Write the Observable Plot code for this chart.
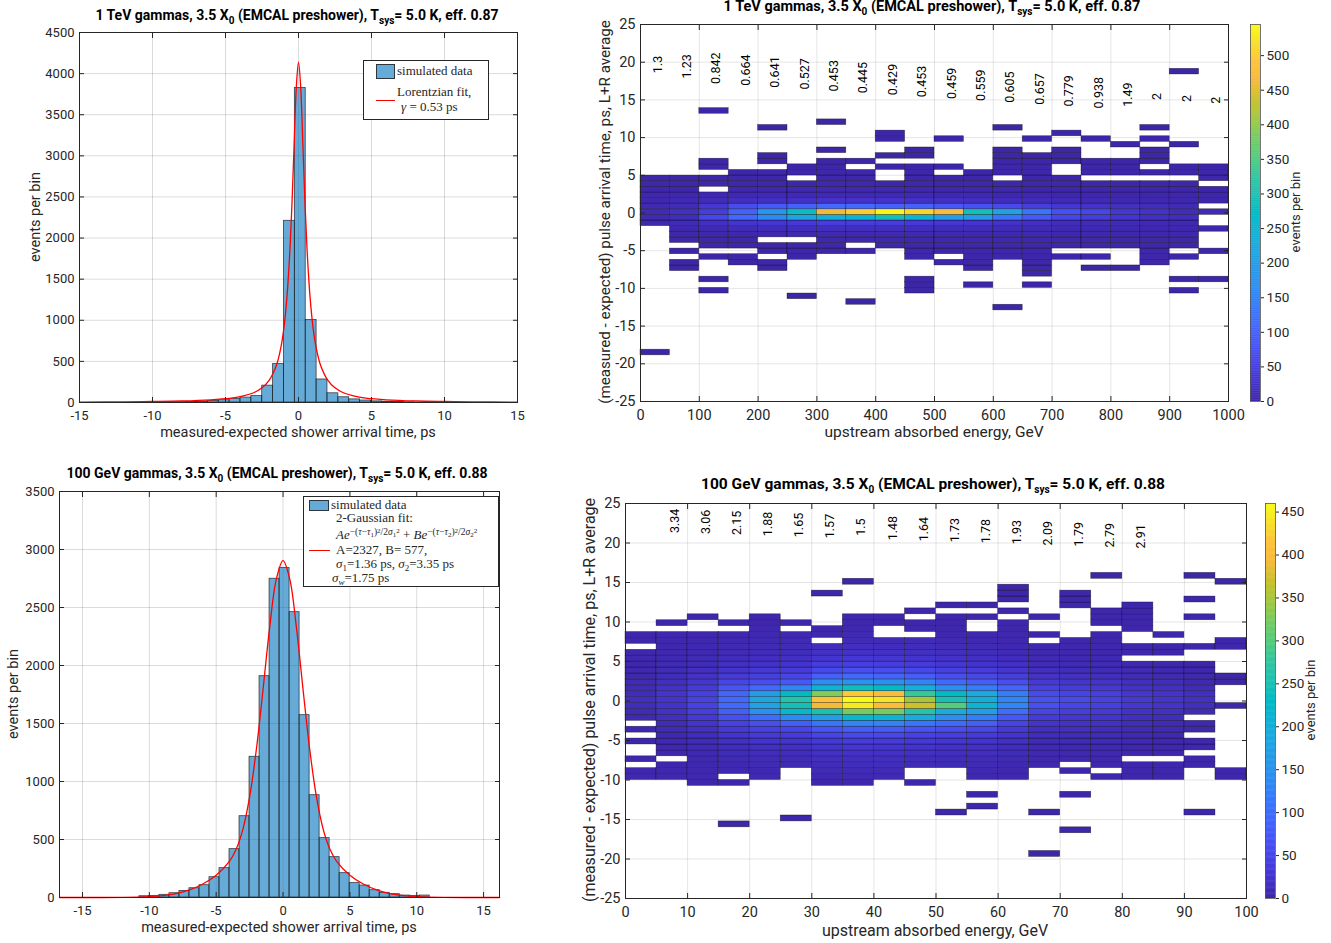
<!DOCTYPE html>
<html><head><meta charset="utf-8">
<script src="https://cdn.jsdelivr.net/npm/d3@7"></script>
<script src="https://cdn.jsdelivr.net/npm/@observablehq/plot@0.6"></script>
<style>
html,body{margin:0;padding:0;background:#fff;}
body{width:1331px;height:943px;position:relative;overflow:hidden;font-family:Roboto,"Noto Sans",sans-serif;}
.abs{position:absolute;white-space:nowrap;}
.title{font-weight:700;font-size:14px;line-height:14px;color:#000;transform:translateX(-50%);}
.title sub{font-size:10px;line-height:0;vertical-align:-4px;}
.xlab{font-size:14.5px;line-height:14.5px;color:#262626;transform:translateX(-50%);}
.ylab{font-size:14.5px;line-height:14.5px;color:#262626;transform:translate(-50%,-50%) rotate(-90deg);}
.legend{position:absolute;border:1px solid #262626;background:#fff;box-sizing:border-box;font-family:"Liberation Serif","DejaVu Serif",serif;font-size:13px;color:#262626;}
.lt{position:absolute;line-height:16px;white-space:nowrap;}
.lt sub{font-size:9px;line-height:0;vertical-align:-3px;}
.sp{font-size:9.5px;vertical-align:4px;line-height:0;}
.sp sub{font-size:7px;vertical-align:-2px;}
.sp sup{font-size:7px;vertical-align:2.5px;line-height:0;}
</style></head><body>
<script>
// ---------------- DATA ----------------
// Top-left histogram: 1 TeV, time bins (ps)
const tlBinStart = -0.25, tlBinWidth = 0.745, tlFirstBin = -11;
const tlCounts = [4,7,12,18,28,42,60,78,205,467,2210,3826,1003,280,112,64,38,24,14,9,5,3];
const tlFitX = [-15,-12,-10,-8,-6,-5,-4,-3,-2.5,-2,-1.5,-1.2,-1,-0.8,-0.6,-0.45,-0.3,-0.15,0,0.15,0.3,0.45,0.6,0.8,1,1.2,1.5,2,2.5,3,4,5,6,8,10,12,15];
const tlFitY = [5,8,12,18,32,46,71,125,178,272,459,676,908,1263,1815,2406,3136,3833,4140,3833,3136,2406,1815,1263,908,676,459,272,178,125,71,46,32,18,12,8,5];

// Bottom-left histogram: 100 GeV
const blBinStart = -0.26, blBinWidth = 0.749, blFirstBin = -14;
const blCounts = [11,14,23,37,57,80,106,175,253,417,701,1213,1908,2748,2840,2460,1572,882,512,348,210,124,103,63,40,29,17,14,17];
const blFitX = [-16.7,-14,-12,-10,-9,-8,-7,-6,-5,-4,-3.5,-3,-2.5,-2,-1.5,-1,-0.5,0,0.5,1,1.5,2,2.5,3,3.5,4,5,6,7,8,9,10,12,14,16.2];
const blFitY = [0,0,1,7,16,33,65,116,192,314,419,590,867,1272,1789,2328,2746,2904,2746,2328,1789,1272,867,590,419,314,192,116,65,33,16,7,1,0,0];

// Top-right 2D histogram: energy columns of 50 GeV, time rows
const trColWidth = 50;
const trStart = [-2,-10,-14,-9,-10,-8,-7,-7,-6,-14,-9,-13,-17,-13,-8,-10,-10,-9,-14,-12];
const trCounts = [
  [5,8,10,8,5,4,3,2,2],
  [1,1,0,1,0,2,3,5,10,15,20,12,8,4,3,2,1],
  [1,0,1,0,0,0,1,0,2,3,4,8,20,60,45,35,12,6,0,2,2,0,1,1],
  [1,1,0,2,3,5,12,30,110,100,70,18,7,5,3,2,1],
  [1,2,0,2,3,0,5,14,35,160,185,90,20,8,5,3,2,2,0,1,1],
  [1,2,3,0,6,16,40,210,280,100,22,9,6,3,0,2,1],
  [2,3,4,7,18,45,240,460,110,25,9,6,4,3,2,1,1,0,1],
  [2,0,4,7,18,45,250,500,110,25,9,6,4,3,2,0,1],
  [3,4,8,18,45,290,540,100,25,9,6,3,0,0,1,0,1,0,0,1,1],
  [1,1,1,0,0,0,2,2,3,4,7,16,40,250,510,100,22,8,5,3,2,2,1,0,1,1],
  [2,0,2,3,4,7,15,35,200,470,85,20,7,5,3,2,0,1,0,0,0,0,1],
  [1,0,0,2,2,2,3,3,5,7,14,30,190,290,75,18,6,4,3,2,1],
  [1,0,0,0,0,0,0,0,0,2,3,3,5,7,12,25,130,210,65,15,5,4,3,0,2,2,1,1,1,0,0,0,1],
  [1,0,2,2,2,2,3,3,4,6,10,20,90,130,45,12,4,3,3,2,2,1,1,1,0,0,1],
  [2,0,3,4,5,8,15,60,75,35,10,3,3,2,2,0,0,1,1,1,0,0,1],
  [1,0,2,0,3,4,5,7,12,45,60,25,8,3,3,2,0,2,1,1,0,0,0,1],
  [1,0,0,0,2,3,4,6,10,30,35,20,6,3,2,2,0,2,1,1,0,0,1],
  [2,2,2,3,3,4,5,8,20,25,15,5,3,2,2,0,1,0,1,1,1,0,1,0,1],
  [1,0,1,0,0,0,2,0,3,3,4,5,6,15,15,10,4,3,2,2,0,1,1,0,0,0,1],
  [1,0,0,0,0,2,0,0,0,3,0,0,10,0,3,3,3,0,2,2,1]
];
const trOutliers = [[0,-25,1],[2,18,1],[4,15,1],[5,-15,1],[6,16,1],[7,-16,1],[18,25,1]];
const trSigma = ["1.3","1.23","0.842","0.664","0.641","0.527","0.453","0.445","0.429","0.453","0.459","0.559","0.605","0.657","0.779","0.938","1.49","2","2","2"];

// Bottom-right 2D histogram: energy columns of 5 GeV
const brColWidth = 5;
const brStart = [-13,-13,-14,-14,-13,-11,-14,-14,-13,-14,-11,-13,-13,-11,-12,-13,-13,-13,-11,-13];
const brCounts = [
  [3,3,0,2,0,0,2,0,3,0,5,8,12,15,13,10,8,6,5,4,3,3,0,2,2],
  [3,3,3,0,3,4,5,6,8,10,14,18,22,25,23,20,16,13,10,8,6,5,4,3,3,0,2],
  [2,3,4,4,5,6,8,10,13,17,23,30,38,44,45,42,35,27,20,15,11,8,6,5,4,3,0,0,2],
  [2,0,5,6,8,10,13,17,23,32,45,62,80,95,95,90,70,50,35,24,17,12,9,7,5,4,0,2],
  [5,6,8,10,13,17,23,32,45,62,100,140,175,180,170,95,60,42,30,21,15,11,8,6,5,3,2,1],
  [8,10,13,17,24,35,50,80,135,220,245,260,230,130,75,50,35,25,17,12,9,7,5,0,2],
  [2,6,8,11,14,18,24,33,48,70,110,170,250,390,410,330,210,140,85,55,38,26,18,12,0,3,2],
  [3,7,9,12,16,20,27,37,55,80,130,220,320,445,460,420,240,150,95,62,42,29,20,14,10,7,4,3,2],
  [7,9,12,15,19,26,35,52,78,125,210,320,400,440,400,230,145,90,60,40,27,19,13,8,0,0,2,2],
  [2,0,0,10,13,17,23,31,45,68,110,190,260,370,350,280,200,130,80,54,36,25,17,12,8,0,3,2,0,1],
  [9,12,15,20,28,40,60,95,140,190,300,250,230,140,95,62,42,29,20,14,10,7,4,2,2,1,0,1],
  [4,6,8,11,14,18,25,35,52,80,120,170,210,200,190,120,80,52,36,25,17,12,8,5,3,0,0,2,0,1],
  [3,4,6,8,10,13,17,23,32,48,72,100,130,130,120,90,60,40,28,19,13,9,6,4,3,2,1,0,1,0,1,1,1],
  [3,4,5,7,9,12,16,24,35,48,62,65,58,45,32,22,15,10,7,5,3,0,2,0,0,1],
  [2,0,4,5,6,8,10,14,20,28,38,50,55,48,36,26,18,12,9,6,4,3,2,0,0,0,0,0,1,1,1],
  [2,0,3,4,5,6,8,10,13,18,24,32,42,45,40,30,22,15,11,8,6,4,3,2,2,0,1,1,1],
  [2,2,3,0,3,4,5,7,9,12,16,21,27,30,27,21,15,11,8,5,0,3,2,0,0,2,1,1,1,1],
  [2,2,3,0,3,3,4,5,7,9,12,17,22,25,22,17,12,8,6,4,0,2,2,0,1],
  [2,2,0,3,3,0,4,5,0,9,14,18,15,10,7,5,3,2,0,0,1],
  [1,1,0,0,0,0,0,0,0,0,0,0,2,0,0,0,2,2,0,0,0,0,1,1]
];
const brOutliers = [[3,-21,1],[5,-20,1],[6,18,1],[7,20,1],[10,-19,1],[11,-16,1],[11,-18,1],[13,-19,1],[13,-26,1],[14,-16,1],[14,-22,1],[15,21,1],[18,-19,1],[18,14,1],[18,17,1],[18,21,1],[19,20,1]];
const brSigma = ["3.34","3.06","2.15","1.88","1.65","1.57","1.5","1.48","1.64","1.73","1.78","1.93","2.09","1.79","2.79","2.91"];

// tick values
const histXTicks = [-15,-10,-5,0,5,10,15];
const tlYTicks = d3.range(0, 4501, 500);
const blYTicks = d3.range(0, 3501, 500);
const trXTicks = d3.range(0, 1001, 100);
const brXTicks = d3.range(0, 101, 10);
const hmYTicks = d3.range(-25, 26, 5);
const trCbTicks = d3.range(0, 501, 50);
const brCbTicks = d3.range(0, 451, 50);
const trCMax = 545, brCMax = 460;

// parula colormap stops
const parulaStops = ["#3e26a8","#4433cd","#4742e6","#4754f6","#4367fd","#3579fd","#2d8df2","#2699e9","#1ea7e1","#10b2d5","#01bac4","#20c1b1","#32c69f","#54cc7c","#75cc61","#a1c840","#c8c129","#f5ba3b","#fec13a","#f6e028","#f9fb15"];
const parulaI = d3.piecewise(d3.interpolateRgb, parulaStops);

// ---------------- HELPERS ----------------
const fmt = d => String(d);
function place(el, left, top, w, h) {
  const d = document.createElement("div");
  d.style.cssText = `position:absolute;left:${left}px;top:${top}px;width:${w}px;height:${h}px;`;
  d.appendChild(el); document.body.appendChild(d); return d;
}
function addHTML(cls, html, left, top, extra = "") {
  const d = document.createElement("div");
  d.className = "abs " + cls;
  d.style.cssText += `left:${left}px;top:${top}px;${extra}`;
  d.innerHTML = html; document.body.appendChild(d); return d;
}
function bars(first, counts, start, width) {
  return counts.map((n, i) => ({x1: start + (first + i) * width, x2: start + (first + i + 1) * width, n}));
}
function cellsFrom(starts, counts, outliers, colW, t0, tw) {
  const out = [];
  counts.forEach((col, j) => col.forEach((n, i) => {
    if (n > 0) { const k = starts[j] + i; out.push({x1: j*colW, x2: (j+1)*colW, y1: t0 + k*tw, y2: t0 + (k+1)*tw, n}); }
  }));
  for (const [j, k, n] of outliers) out.push({x1: j*colW, x2: (j+1)*colW, y1: t0 + k*tw, y2: t0 + (k+1)*tw, n});
  return out;
}
const axisStyle = (fs) => ({fontFamily: "Roboto, 'Noto Sans', sans-serif", fontSize: fs, color: "#262626", background: "transparent", overflow: "visible"});

function histPlot({w, h, ml, mr, mt, mb, xdom, ydom, yticks, data, fit}) {
  return Plot.plot({
    width: w, height: h, marginLeft: ml, marginRight: mr, marginTop: mt, marginBottom: mb,
    style: axisStyle("13px"),
    x: {domain: xdom}, y: {domain: ydom},
    marks: [
      Plot.gridX(histXTicks, {stroke: "#000", strokeOpacity: 0.14}),
      Plot.gridY(yticks, {stroke: "#000", strokeOpacity: 0.14}),
      Plot.rect(data, {x1: "x1", x2: "x2", y1: 0, y2: "n", fill: "#0072bd", fillOpacity: 0.6, stroke: "#1a1a1a", strokeOpacity: 0.8, strokeWidth: 0.8}),
      Plot.line(fit, {x: "x", y: "y", stroke: "#ff0000", strokeWidth: 1.3, curve: "catmull-rom"}),
      Plot.frame({stroke: "#262626", strokeWidth: 1}),
      Plot.axisX(histXTicks, {anchor: "bottom", tickSize: -5, tickPadding: 13, tickFormat: fmt, label: null, stroke: "#262626"}),
      Plot.axisX(histXTicks, {anchor: "top", tickSize: -5, tickFormat: () => "", label: null, stroke: "#262626"}),
      Plot.axisY(yticks, {anchor: "left", tickSize: -5, tickPadding: 10, tickFormat: fmt, label: null, stroke: "#262626"}),
      Plot.axisY(yticks, {anchor: "right", tickSize: -5, tickFormat: () => "", label: null, stroke: "#262626"})
    ]
  });
}

function heatPlot({w, h, ml, mr, mt, mb, xdom, xticks, cells, cmax, sigma, sx, sy}) {
  return Plot.plot({
    width: w, height: h, marginLeft: ml, marginRight: mr, marginTop: mt, marginBottom: mb,
    style: axisStyle("14.5px"),
    x: {domain: xdom}, y: {domain: [-25, 25]},
    color: {type: "linear", domain: [0, cmax], interpolate: (t) => parulaI(t)},
    marks: [
      Plot.gridX(xticks, {stroke: "#000", strokeOpacity: 0.1}),
      Plot.gridY(hmYTicks, {stroke: "#000", strokeOpacity: 0.1}),
      Plot.rect(cells, {x1: "x1", x2: "x2", y1: "y1", y2: "y2", fill: "n", stroke: "#000", strokeOpacity: 0.55, strokeWidth: 0.6}),
      Plot.text(sigma, {x: sx, y: sy, text: d => d, rotate: -90, fontSize: 12.5, fill: "#000"}),
      Plot.frame({stroke: "#262626", strokeWidth: 1}),
      Plot.axisX(xticks, {anchor: "bottom", tickSize: -5, tickPadding: 13, tickFormat: fmt, label: null, stroke: "#262626"}),
      Plot.axisX(xticks, {anchor: "top", tickSize: -5, tickFormat: () => "", label: null, stroke: "#262626"}),
      Plot.axisY(hmYTicks, {anchor: "left", tickSize: -5, tickPadding: 10, tickFormat: fmt, label: null, stroke: "#262626"}),
      Plot.axisY(hmYTicks, {anchor: "right", tickSize: -5, tickFormat: () => "", label: null, stroke: "#262626"})
    ]
  });
}

function colorbar({w, h, mt, mb, cmax, ticks}) {
  const vals = d3.range(0, cmax, 1);
  return Plot.plot({
    width: w, height: h, marginLeft: 10, marginRight: w - 20, marginTop: mt, marginBottom: mb,
    style: axisStyle("13.5px"),
    x: {domain: [0, 1], axis: null}, y: {domain: [0, cmax]},
    color: {type: "linear", domain: [0, cmax], interpolate: (t) => parulaI(t)},
    marks: [
      Plot.rect(vals, {x1: 0, x2: 1, y1: d => d, y2: d => Math.min(cmax, d + 1.6), fill: d => d + 0.5}),
      Plot.frame({stroke: "#555", strokeWidth: 0.8}),
      Plot.axisY(ticks, {anchor: "right", tickSize: 3, tickPadding: 3, tickFormat: fmt, label: null, stroke: "#262626"})
    ]
  });
}

// ---------------- PANELS ----------------
const tlBars = bars(tlFirstBin, tlCounts, tlBinStart, tlBinWidth);
const blBars = bars(blFirstBin, blCounts, blBinStart, blBinWidth);
const tlFit = tlFitX.map((x, i) => ({x, y: tlFitY[i]}));
const blFit = blFitX.map((x, i) => ({x, y: blFitY[i]}));

place(histPlot({w: 530, h: 430, ml: 79, mr: 13, mt: 12, mb: 48, xdom: [-15, 15], ydom: [0, 4500], yticks: tlYTicks, data: tlBars, fit: tlFit}), 0, 20, 530, 430);
place(histPlot({w: 520, h: 463, ml: 59, mr: 21, mt: 11, mb: 46, xdom: [-16.72, 16.19], ydom: [0, 3500], yticks: blYTicks, data: blBars, fit: blFit}), 0, 480, 520, 463);

const trCells = cellsFrom(trStart, trCounts, trOutliers, trColWidth, -0.25, 0.745);
const brCells = cellsFrom(brStart, brCounts, brOutliers, brColWidth, -0.26, 0.749);

place(heatPlot({w: 660, h: 440, ml: 60, mr: 12, mt: 14, mb: 49, xdom: [0, 1000], xticks: trXTicks, cells: trCells, cmax: trCMax,
  sigma: trSigma, sx: (d, i) => i * trColWidth + 29, sy: (d, i) => 19.7 - 0.25 * i}), 580, 10, 660, 440);
place(colorbar({w: 80, h: 440, mt: 14, mb: 49, cmax: trCMax, ticks: trCbTicks}), 1240, 10, 80, 440);

place(heatPlot({w: 690, h: 453, ml: 55, mr: 14, mt: 13, mb: 45, xdom: [0, 100], xticks: brXTicks, cells: brCells, cmax: brCMax,
  sigma: brSigma, sx: (d, i) => (i + 1) * brColWidth + 3, sy: (d, i) => 22.8 - 0.13 * i}), 570, 490, 690, 453);
place(colorbar({w: 76, h: 453, mt: 13, mb: 45, cmax: brCMax, ticks: brCbTicks}), 1255, 490, 76, 453);

// ---------------- TEXT ----------------
const t1 = "1 TeV gammas, 3.5 X<sub>0</sub> (EMCAL preshower), T<sub>sys</sub>= 5.0 K, eff. 0.87";
const t2 = "100 GeV gammas, 3.5 X<sub>0</sub> (EMCAL preshower), T<sub>sys</sub>= 5.0 K, eff. 0.88";
addHTML("title", t1, 297, 8);
addHTML("title", t1, 932, 0, "font-size:14.5px;line-height:14.5px;");
addHTML("title", t2, 277, 466);
addHTML("title", t2, 933, 477, "font-size:15.5px;line-height:15.5px;");

const xl1 = "measured-expected shower arrival time, ps";
const xl2 = "upstream absorbed energy, GeV";
const yl1 = "events per bin";
const yl2 = "(measured - expected) pulse arrival time, ps, L+R average";
addHTML("xlab", xl1, 298, 426);
addHTML("xlab", xl1, 279, 921);
addHTML("xlab", xl2, 934, 425, "font-size:15.5px;");
addHTML("xlab", xl2, 935, 924, "font-size:16px;");
addHTML("ylab", yl1, 36, 217);
addHTML("ylab", yl1, 14, 694);
addHTML("ylab", yl2, 605, 212, "font-size:15.2px;");
addHTML("ylab", yl2, 590, 700, "font-size:16px;");
addHTML("ylab", yl1, 1296, 212, "font-size:13px;");
addHTML("ylab", yl1, 1311, 700, "font-size:13px;");

// legends
const lg1 = document.createElement("div");
lg1.className = "legend";
lg1.style.cssText = "left:363px;top:60px;width:126px;height:60px;";
lg1.innerHTML = `
<div style="position:absolute;left:12px;top:3px;width:19px;height:15px;background:#66aad7;border:1px solid #2b3640;box-sizing:border-box"></div>
<div class="lt" style="left:33px;top:2px">simulated data</div>
<div style="position:absolute;left:12px;top:39px;width:19px;height:1.4px;background:#ff0000"></div>
<div class="lt" style="left:33px;top:23px">Lorentzian fit,</div>
<div class="lt" style="left:37px;top:38px"><i>γ</i> = 0.53 ps</div>`;
document.body.appendChild(lg1);

const lg2 = document.createElement("div");
lg2.className = "legend";
lg2.style.cssText = "left:303px;top:496px;width:196px;height:91px;";
lg2.innerHTML = `
<div style="position:absolute;left:5px;top:3px;width:20px;height:11px;background:#66aad7;border:1px solid #2b3640;box-sizing:border-box"></div>
<div class="lt" style="left:27px;top:0px">simulated data</div>
<div class="lt" style="left:32px;top:13px">2-Gaussian fit:</div>
<div class="lt" style="left:32px;top:30px"><i>Ae</i><span class="sp">−(<i>τ</i>−<i>τ</i><sub>1</sub>)<sup>2</sup>/2<i>σ</i><sub>1</sub><sup>2</sup></span> + <i>Be</i><span class="sp">−(<i>τ</i>−<i>τ</i><sub>2</sub>)<sup>2</sup>/2<i>σ</i><sub>2</sub><sup>2</sup></span></div>
<div style="position:absolute;left:5px;top:52.5px;width:21px;height:1.4px;background:#ff0000"></div>
<div class="lt" style="left:32px;top:45px">A=2327, B= 577,</div>
<div class="lt" style="left:32px;top:59px"><i>σ</i><sub>1</sub>=1.36 ps, <i>σ</i><sub>2</sub>=3.35 ps</div>
<div class="lt" style="left:28px;top:73px"><i>σ</i><sub><i>w</i></sub>=1.75 ps</div>`;
document.body.appendChild(lg2);
</script>
</body></html>
